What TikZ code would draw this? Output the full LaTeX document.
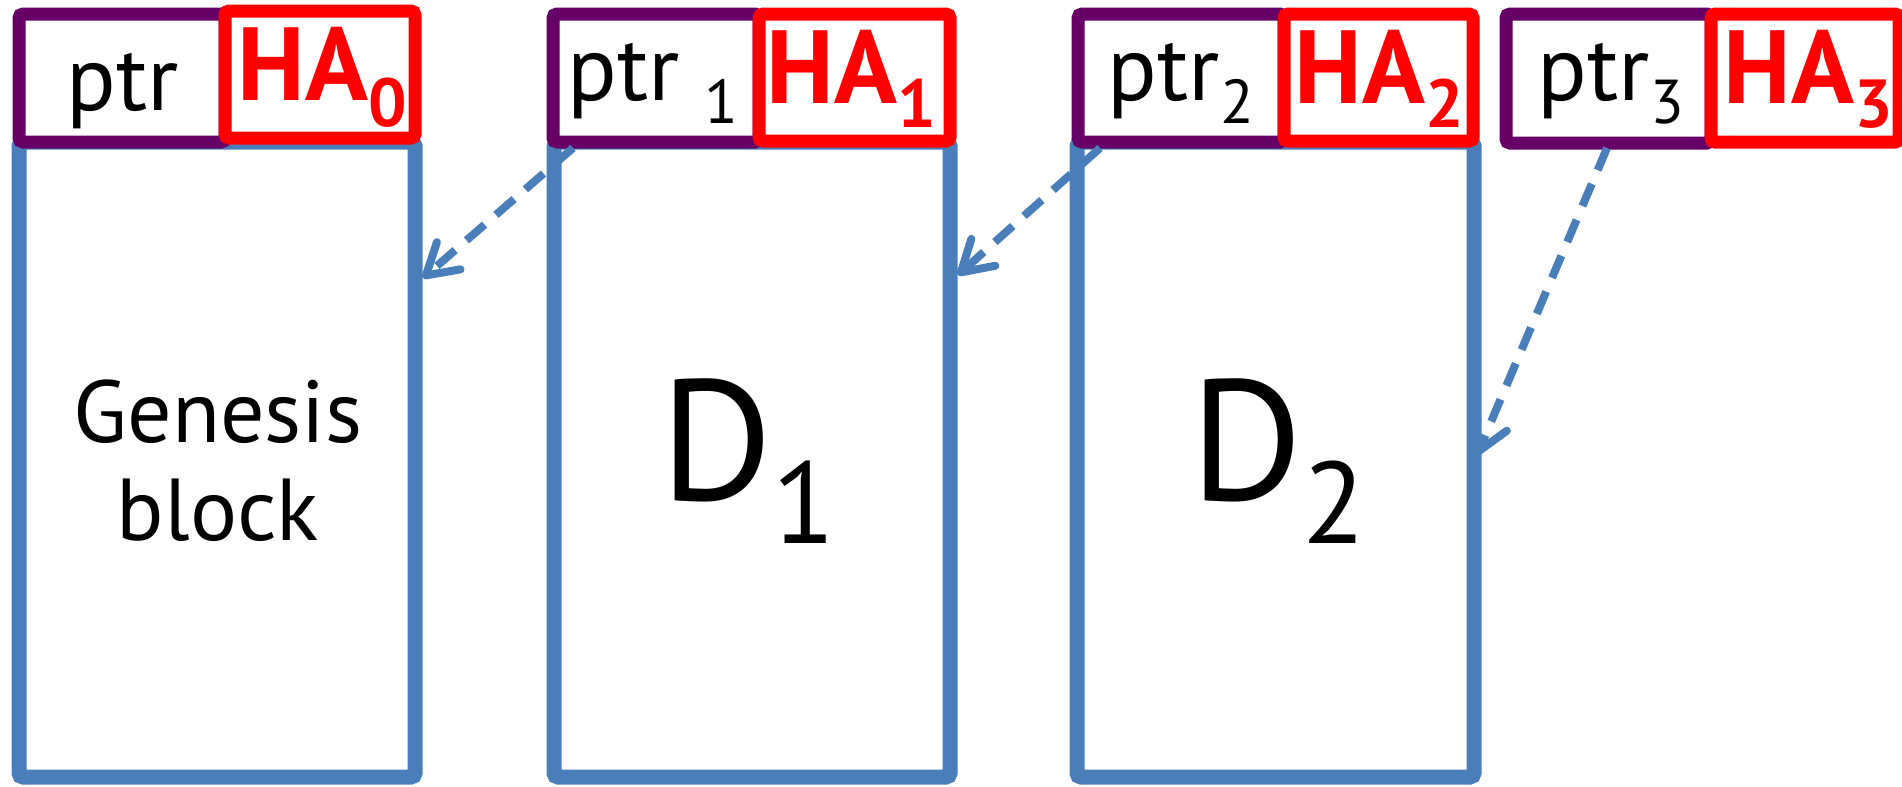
\documentclass[tikz,border=0pt]{standalone}
\usepackage{fontspec}
\setmainfont{PT Sans}
\usetikzlibrary{arrows.meta,calc,fit,shadows}
\definecolor{chainblue}{HTML}{4A7EBB}
\definecolor{ptrpurple}{HTML}{660066}
\definecolor{hashred}{HTML}{FF0000}
% lowered index: size (pt), drop, content
\newcommand{\lowsub}[3]{\raisebox{-#2}{\fontsize{#1}{#1}\selectfont #3}}

\begin{document}
\begin{tikzpicture}[x=0.5pt,y=-0.5pt,
  boxbase/.style={inner sep=0pt, outer sep=0pt, rounded corners=2pt, fill=white,
    line width=6.5pt, drop shadow={shadow xshift=1pt, shadow yshift=-1pt, opacity=0.18}},
  datablock/.style={boxbase, draw=chainblue, line width=7.5pt},
  ptrfield/.style={boxbase, draw=ptrpurple},
  hashfield/.style={boxbase, draw=hashred},
  ptrtext/.style={anchor=base, inner sep=0pt, font=\fontsize{46}{46}\selectfont},
  hashtext/.style={anchor=base, inner sep=0pt, text=hashred, font=\fontsize{52}{52}\selectfont\bfseries},
  bodytext/.style={anchor=base, inner sep=0pt, align=center},
  link/.style={draw=chainblue, line width=4pt, dash pattern=on 12pt off 7.5pt,
    -{Straight Barb[length=15pt,width=18pt,round]}}
]
\useasboundingbox (0,0) rectangle (1902,787);

% block 0: genesis
\node[datablock, fit={(19,142) (415,777)}] (b1) {};
\node[ptrfield,  fit={(19,14) (225,142)}] (p1) {};
\node[hashfield, fit={(225,11) (415,138)}] (r1) {};
% block 1
\node[datablock, fit={(554,142) (950,777)}] (b2) {};
\node[ptrfield,  fit={(553,14) (759,142)}] (p2) {};
\node[hashfield, fit={(759,14) (950,141)}] (r2) {};
% block 2
\node[datablock, fit={(1077,142) (1474,777)}] (b3) {};
\node[ptrfield,  fit={(1078,14) (1284,142)}] (p3) {};
\node[hashfield, fit={(1284,14) (1473,141)}] (r3) {};
% head pointer
\node[ptrfield,  fit={(1506,14) (1711,143)}] (p4) {};
\node[hashfield, fit={(1711,14) (1899,142)}] (r4) {};

% header texts
\node[ptrtext]  (t1) at (123,110) {ptr};
\node[hashtext] (h1) at (322,100) {HA\lowsub{34}{13pt}{0}};
\node[ptrtext]  (t2) at (653,100) {ptr\hspace{12pt}\lowsub{31}{11.5pt}{1}};
\node[hashtext] (h2) at (851,103) {HA\lowsub{34}{12.5pt}{1}};
\node[ptrtext]  (t3) at (1181,100) {ptr\lowsub{31}{11.5pt}{2}};
\node[hashtext] (h3) at (1379,103) {HA\lowsub{34}{12.5pt}{2}};
\node[ptrtext]  (t4) at (1611,100) {ptr\lowsub{31}{11.5pt}{3}};
\node[hashtext] (h4) at (1808,103) {HA\lowsub{34}{12.5pt}{3}};

% block contents
\node[bodytext, font=\fontsize{44}{49}\selectfont] (g1) at (218,540) {Genesis\\block};
\node[bodytext, font=\fontsize{86}{86}\selectfont] (d1) at (748,500) {D\lowsub{58}{21.5pt}{1}};
\node[bodytext, font=\fontsize{86}{86}\selectfont] (d2) at (1278,500) {D\lowsub{58}{21.5pt}{2}};

% hash pointers
\draw[link] ($(p2.south west)+(20,6)$) -- ($(b1.north east)+(8,136)$);
\draw[link] ($(p3.south west)+(22,6)$) -- ($(b2.north east)+(8,133)$);
\draw[link] ($(p4.south west)+(101,5)$) -- ($(b3.north east)+(3,313)$);
\end{tikzpicture}
\end{document}
